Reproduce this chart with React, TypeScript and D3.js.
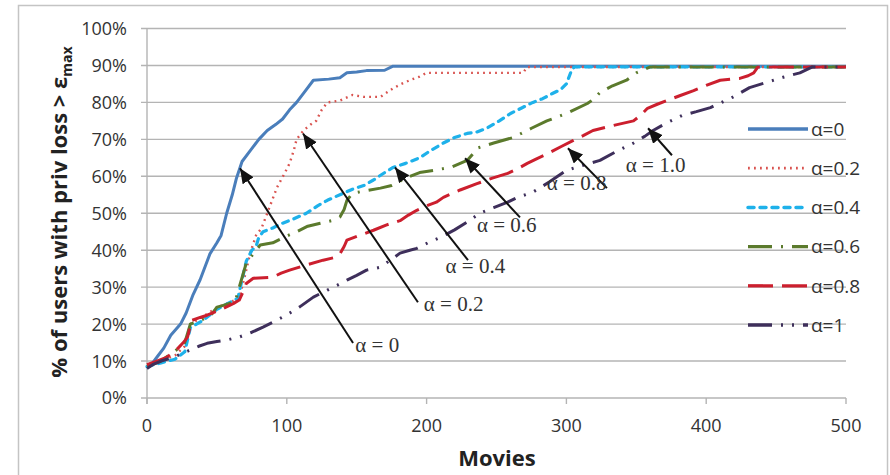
import React from "react";
import * as d3 from "d3";

// ---- data (movies, % of users) ----
const a0X = [0, 4, 8, 12, 17, 24, 28, 33, 38, 42, 45, 50, 53, 57, 61, 64, 68, 74, 80, 86, 92, 97, 102, 107, 113, 119, 130, 138, 143, 150, 157, 170, 176, 500];
const a0Y = [8.2, 9.5, 11.5, 13.5, 17, 20, 23, 28, 32, 36, 39, 42, 44, 50, 55, 59.5, 64, 67, 70, 72.4, 74, 75.5, 78, 80, 83, 86, 86.3, 86.7, 88, 88.2, 88.6, 88.7, 89.8, 89.8];

const a2X = [0, 10, 20, 27, 31, 40, 50, 60, 66, 70, 74, 78, 82, 86, 90, 93, 98, 102, 105, 107, 112, 117, 121, 125, 129, 138, 147, 155, 167, 176, 182, 188, 195, 200, 269, 272, 500];
const a2Y = [8.5, 10, 11.5, 14, 20, 22, 24.5, 26, 27, 33, 39.5, 44, 46, 50, 54, 57, 60.5, 63.5, 67, 70, 72.4, 74, 75, 78, 80, 80.5, 82, 81.5, 81.5, 83.8, 85, 86, 87, 88, 88, 89.6, 89.6];

const a4X = [0, 10, 20, 27, 31, 40, 50, 60, 65, 68, 71, 75, 78, 80, 83, 90, 95, 105, 114, 122, 129, 138, 147, 155, 162, 170, 176, 185, 195, 203, 212, 220, 229, 236, 243, 252, 260, 268, 276, 283, 290, 296, 300, 304, 306, 500];
const a4Y = [8.5, 9.5, 10.5, 12.5, 19, 21, 24, 26, 27, 32, 37, 40, 41, 43.5, 45, 46, 47, 48.5, 50, 52, 53.5, 55, 56.5, 57.5, 59, 61, 62.4, 63.5, 65, 67, 69, 70.5, 71.6, 72, 73, 75, 77, 78.5, 80, 81, 82.4, 83.5, 85, 89, 89.6, 89.6];

const a6X = [0, 10, 21, 27, 31, 38, 45, 50, 54, 59, 63, 66, 71, 77, 81, 90, 98, 107, 115, 124, 132, 138, 141, 143, 147, 155, 167, 175, 185, 195, 205, 218, 229, 233, 236, 248, 262, 275, 286, 300, 315, 320, 324, 333, 343, 350, 360, 500];
const a6Y = [8.5, 10, 13, 15, 20, 21, 22, 24.6, 25, 25.6, 26, 30, 36.5, 39.5, 41.4, 42, 43.5, 45, 46.5, 47.3, 48, 49, 51, 53.5, 55.4, 56, 56.8, 57.5, 59.5, 61, 61.6, 62.5, 64.3, 66, 67.6, 69, 70.5, 73, 75, 77, 79.7, 81, 82.7, 84.5, 86, 88, 89.6, 89.6];

const a8X = [0, 7, 14, 21, 26, 29, 32, 38, 43, 52, 62, 66, 69, 71, 76, 90, 96, 102, 114, 126, 134, 138, 141, 143, 152, 162, 171, 181, 187, 193, 200, 207, 212, 224, 236, 247, 258, 265, 272, 279, 286, 296, 305, 312, 319, 333, 348, 353, 358, 365, 372, 381, 391, 400, 410, 424, 430, 434, 437, 500];
const a8Y = [9, 10, 11, 13, 15, 16.5, 21, 21.8, 22.4, 23.8, 25.6, 26.5, 29, 31, 32.4, 32.7, 33.8, 34.6, 36, 37.3, 38, 39, 41, 42.7, 44, 45.4, 46.8, 48, 49.5, 50.8, 52, 53, 54.3, 56.3, 58, 59.5, 60.8, 62, 63.5, 64.8, 66, 68, 69.7, 71, 72.4, 73.7, 75, 76.5, 78.4, 79.5, 80.5, 81.8, 83.2, 84.6, 86, 86.5, 87.2, 88, 89.6, 89.6];

const a10X = [0, 4, 10, 19, 25, 31, 37, 43, 50, 57, 66, 75, 83, 90, 100, 109, 119, 129, 136, 143, 150, 157, 167, 174, 181, 188, 193, 202, 210, 220, 229, 238, 248, 258, 265, 276, 288, 300, 312, 324, 336, 348, 356, 362, 372, 383, 393, 403, 411, 419, 425, 431, 443, 455, 467, 476, 500];
const a10Y = [8, 9, 10, 11, 12, 13, 14, 14.8, 15.3, 15.7, 16.5, 17.8, 19.2, 20.5, 22.5, 24.6, 27.3, 29.2, 30.5, 31.9, 33.2, 34.6, 35.4, 37.3, 39.2, 40, 40.5, 42.2, 43.5, 45.5, 47.6, 50, 51.5, 53, 54.3, 55.7, 58.5, 61.6, 63, 64.3, 66.8, 69, 70.8, 72.4, 74.5, 76.5, 77.5, 78.6, 80, 81.4, 82.7, 84, 85.4, 86.8, 88, 89.6, 89.6];

const legendLabels = ["α=0", "α=0.2", "α=0.4", "α=0.6", "α=0.8", "α=1"];
const yTicks = [0, 10, 20, 30, 40, 50, 60, 70, 80, 90, 100];
const xTicks = [0, 100, 200, 300, 400, 500];

// annotations: label, text anchor (movies, %), arrow tail, arrow tip
const annLabels = ["α = 0", "α = 0.2", "α = 0.4", "α = 0.6", "α = 0.8", "α = 1.0"];
const annTextX = [149, 198, 213.6, 236, 286, 342.5];
const annTextY = [12.4, 23.5, 33.8, 44.9, 56.2, 61.1];
const annTailX = [147.4, 193.8, 229.6, 266.8, 329, 375.5];
const annTailY = [14.9, 25.9, 37.3, 48.9, 56.8, 65.7];
const annTipX = [66.5, 111.6, 177.4, 227.5, 301.1, 358.4];
const annTipY = [62.2, 71.6, 62.4, 64.9, 67.6, 73];

const seriesX = [a0X, a2X, a4X, a6X, a8X, a10X];
const seriesY = [a0Y, a2Y, a4Y, a6Y, a8Y, a10Y];

const styles = [
  { color: "#4a7ebb", width: 3, dash: "", cap: "butt" },
  { color: "#d9534f", width: 2.4, dash: "1.8 4.2", cap: "butt" },
  { color: "#1eb1ea", width: 3.2, dash: "6 6", cap: "round" },
  { color: "#5b7a2c", width: 3, dash: "24 9 2 9", cap: "butt" },
  { color: "#cc1f2e", width: 3, dash: "25 9", cap: "butt" },
  { color: "#3e2f5b", width: 3, dash: "24 9 2 9 2 9", cap: "butt" },
];

export default function App() {
  const x = d3.scaleLinear().domain([0, 500]).range([147, 846]);
  const y = d3.scaleLinear().domain([0, 100]).range([398, 28.5]);
  const sans = "'Open Sans', 'Noto Sans', sans-serif";
  const serif = "'Liberation Serif', 'DejaVu Serif', serif";

  const paths = seriesX.map((xs, i) => {
    const pts: [number, number][] = xs.map((v, j) => [x(v), y(seriesY[i][j])]);
    return d3.line()(pts) || "";
  });

  return (
    <svg
      width={890}
      height={475}
      style={{ position: "absolute", left: 0, top: 0, background: "#fff" }}
    >
      <defs>
        <marker
          id="arrow"
          markerUnits="userSpaceOnUse"
          markerWidth={16}
          markerHeight={14}
          refX={15}
          refY={6.5}
          orient="auto"
        >
          <path d="M0,0 L15,6.5 L0,13 z" fill="#111" />
        </marker>
      </defs>
      <rect x={18.5} y={5.5} width={869} height={480} fill="#fff" stroke="#c4c4c4" strokeWidth={1.5} />
      {/* gridlines */}
      {yTicks.map((t) => (
        <line key={"g" + t} x1={141} x2={846} y1={y(t)} y2={y(t)} stroke="#b4b4b4" strokeWidth={1.4} />
      ))}
      <line x1={x(0)} x2={x(0)} y1={y(100)} y2={y(0) + 6} stroke="#b4b4b4" strokeWidth={1.4} />
      {xTicks.map((t) => (
        <line key={"xt" + t} x1={x(t)} x2={x(t)} y1={y(0)} y2={y(0) + 6} stroke="#b4b4b4" strokeWidth={1.4} />
      ))}
      {yTicks.map((t) => (
        <text
          key={"yl" + t}
          x={127}
          y={y(t)}
          dy="0.36em"
          textAnchor="end"
          fontFamily={sans}
          fontSize={18}
          fill="#333"
        >
          {t + "%"}
        </text>
      ))}
      {xTicks.map((t) => (
        <text
          key={"xl" + t}
          x={x(t)}
          y={432}
          textAnchor="middle"
          fontFamily={sans}
          fontSize={18}
          fill="#333"
        >
          {t}
        </text>
      ))}
      <text x={497} y={466} textAnchor="middle" fontFamily={sans} fontSize={22} fontWeight="bold" fill="#222">
        Movies
      </text>
      <text
        transform="translate(67,212) rotate(-90)"
        textAnchor="middle"
        fontFamily={sans}
        fontSize={22}
        fontWeight="bold"
        fill="#222"
      >
        % of users with priv loss &gt; ε
        <tspan fontSize={14} dy={5}>max</tspan>
      </text>
      {/* series */}
      {paths.map((p, i) => (
        <path
          key={"s" + i}
          d={p}
          fill="none"
          stroke={styles[i].color}
          strokeWidth={styles[i].width}
          strokeDasharray={styles[i].dash}
          strokeLinecap={styles[i].cap as any}
          strokeLinejoin="round"
        />
      ))}
      {/* annotations */}
      {annLabels.map((l, i) => (
        <g key={"a" + i}>
          <line
            x1={x(annTailX[i])}
            y1={y(annTailY[i])}
            x2={x(annTipX[i])}
            y2={y(annTipY[i])}
            stroke="#111"
            strokeWidth={2}
            markerEnd="url(#arrow)"
          />
          <text x={x(annTextX[i])} y={y(annTextY[i])} fontFamily={serif} fontSize={21} fill="#333">
            {l}
          </text>
        </g>
      ))}
      {/* legend */}
      {legendLabels.map((l, i) => {
        const ly = 129 + i * 39.2;
        return (
          <g key={"lg" + i}>
            <line
              x1={748}
              x2={808}
              y1={ly}
              y2={ly}
              stroke={styles[i].color}
              strokeWidth={styles[i].width + 0.3}
              strokeDasharray={styles[i].dash}
              strokeLinecap={styles[i].cap as any}
            />
            <text x={811} y={ly} dy="0.36em" fontFamily={sans} fontSize={19} fill="#333">
              {l}
            </text>
          </g>
        );
      })}
    </svg>
  );
}
